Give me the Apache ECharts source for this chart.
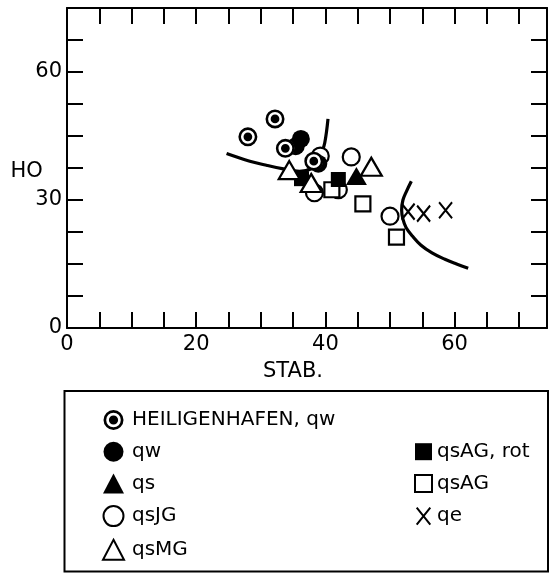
<!DOCTYPE html>
<html>
<head>
<meta charset="utf-8">
<script src="https://cdn.jsdelivr.net/npm/echarts@6/dist/echarts.min.js"></script>
<style>
  html, body { margin: 0; background: #fff; }
  #chart { width: 554px; height: 573px; }
</style>
</head>
<body>
<div id="chart"></div>
<script>
// values: [STAB., HO]
const heiligenhafenQw = [[28.0, 44.8], [32.2, 49.0], [33.8, 42.1], [38.2, 39.1]];
const qw = [[35.4, 42.6], [36.2, 44.3], [38.9, 38.5]];
const qs = [[44.8, 35.6]];
const qsJG = [[39.2, 40.3], [38.3, 31.7], [42.0, 32.4], [44.0, 40.1], [50.0, 26.2]];
const qsMG = [[34.4, 37.0], [37.8, 34.0], [47.1, 37.8]];
const qsAGrot = [[36.3, 35.0], [42.0, 34.8]];
const qsAG = [[41.0, 32.4], [45.8, 29.1], [51.0, 21.3]];
const qe = [[52.8, 27.3], [55.2, 26.8], [58.6, 27.6]];

// the two hand drawn boundary curves
const curveLeft = [[24.7, 40.9], [28.3, 39.1], [31.0, 38.1], [33.5, 37.3], [36.0, 36.7],
  [38.0, 37.5], [38.9, 39.2], [39.4, 41.0], [39.9, 43.4], [40.4, 49.0]];
const curveRight = [[53.3, 34.4], [52.6, 32.2], [52.0, 30.0], [51.8, 27.6], [52.0, 25.5],
  [52.5, 23.5], [53.5, 21.5], [54.8, 19.4], [56.5, 17.6], [58.5, 16.1], [60.3, 15.0], [62.1, 14.0]];

const xLabels = [0, 20, 40, 60];
const yLabels = [0, 30, 60];

const FONT = 'DejaVu Sans';
const bullseye = 'path://M10,0A10,10 0 1,1 10,20A10,10 0 1,1 10,0Z' +
  'M10,2.7A7.3,7.3 0 1,0 10,17.3A7.3,7.3 0 1,0 10,2.7Z' +
  'M10,5.4A4.6,4.6 0 1,1 10,14.6A4.6,4.6 0 1,1 10,5.4Z';
const cross = 'path://M0,0L12,15M12,0L0,15';

const chart = echarts.init(document.getElementById('chart'));

function axis(dim, position, showLabels) {
  const isX = dim === 'x';
  const labels = isX ? xLabels : yLabels;
  return {
    type: 'value',
    position: position,
    min: 0,
    max: isX ? 74.3 : 75,
    interval: isX ? 5 : 7.5,
    axisLine: { show: true, onZero: false, lineStyle: { color: '#000', width: 2 } },
    axisTick: { show: true, inside: true, length: 16, lineStyle: { color: '#000', width: 2 } },
    axisLabel: {
      show: showLabels,
      color: '#000',
      fontFamily: FONT,
      fontSize: 21,
      margin: isX ? 6 : 5,
      formatter: v => labels.some(l => Math.abs(l - v) < 1e-6) ? String(v) : ''
    },
    splitLine: { show: false }
  };
}

function curve(data) {
  return {
    type: 'line', data: data, smooth: 0.4, showSymbol: false, silent: true,
    lineStyle: { color: '#000', width: 3.2 }, z: 1
  };
}

function marks(name, data, symbol, size, style) {
  return { type: 'scatter', name: name, data: data, symbol: symbol, symbolSize: size,
    itemStyle: Object.assign({ opacity: 1 }, style), z: 3, emphasis: { disabled: true } };
}

const hollow = { color: '#fff', borderColor: '#000', borderWidth: 2.2 };
const solid = { color: '#000', borderWidth: 0 };

chart.setOption({
  animation: false,
  backgroundColor: '#fff',
  grid: { left: 67, top: 8, width: 480, height: 320 },
  xAxis: [axis('x', 'bottom', true), axis('x', 'top', false)],
  yAxis: [axis('y', 'left', true), axis('y', 'right', false)],
  legend: [
    {
      data: ['HEILIGENHAFEN, qw', 'qw', 'qs', 'qsJG', 'qsMG'],
      orient: 'vertical', left: 102, top: 410, padding: 0,
      itemWidth: 21, itemHeight: 20, itemGap: 11.7, selectedMode: false,
      textStyle: { fontFamily: FONT, fontSize: 20, lineHeight: 20, color: '#000', padding: [0, 0, 0, 3] }
    },
    {
      data: ['qsAG, rot', 'qsAG', 'qe'],
      orient: 'vertical', left: 414, top: 441.7, padding: 0,
      itemWidth: 17, itemHeight: 17, itemGap: 11.7, selectedMode: false,
      textStyle: { fontFamily: FONT, fontSize: 20, lineHeight: 20, color: '#000', padding: [0, 0, 0, 0] }
    }
  ],
  graphic: [
    { type: 'text', style: { text: 'HO', x: 26.7, y: 172, align: 'center', verticalAlign: 'middle',
      font: '21px ' + FONT, fill: '#000' } },
    { type: 'text', style: { text: 'STAB.', x: 293, y: 372, align: 'center', verticalAlign: 'middle',
      font: '21px ' + FONT, fill: '#000' } },
    { type: 'rect', shape: { x: 64.5, y: 391, width: 483.5, height: 180.5 },
      style: { fill: 'none', stroke: '#000', lineWidth: 2 } }
  ],
  series: [
    curve(curveLeft),
    curve(curveRight),
    marks('qsJG', qsJG, 'circle', 17, hollow),
    marks('qsAG', qsAG, 'rect', 15, hollow),
    marks('qsAG, rot', qsAGrot, 'rect', 15, solid),
    marks('qsMG', qsMG, 'triangle', [21, 18], hollow),
    marks('qs', qs, 'triangle', [21, 18], solid),
    marks('qw', qw, 'circle', 18, solid),
    // white disc under each bullseye so that it covers what lies behind
    Object.assign(marks('bullseye backing', heiligenhafenQw, 'circle', 18, { color: '#fff' }), { silent: true }),
    marks('HEILIGENHAFEN, qw', heiligenhafenQw, bullseye, 19, solid),
    marks('qe', qe, cross, [13, 16], { color: 'none', borderColor: '#000', borderWidth: 2.2 })
  ]
});
</script>
</body>
</html>
